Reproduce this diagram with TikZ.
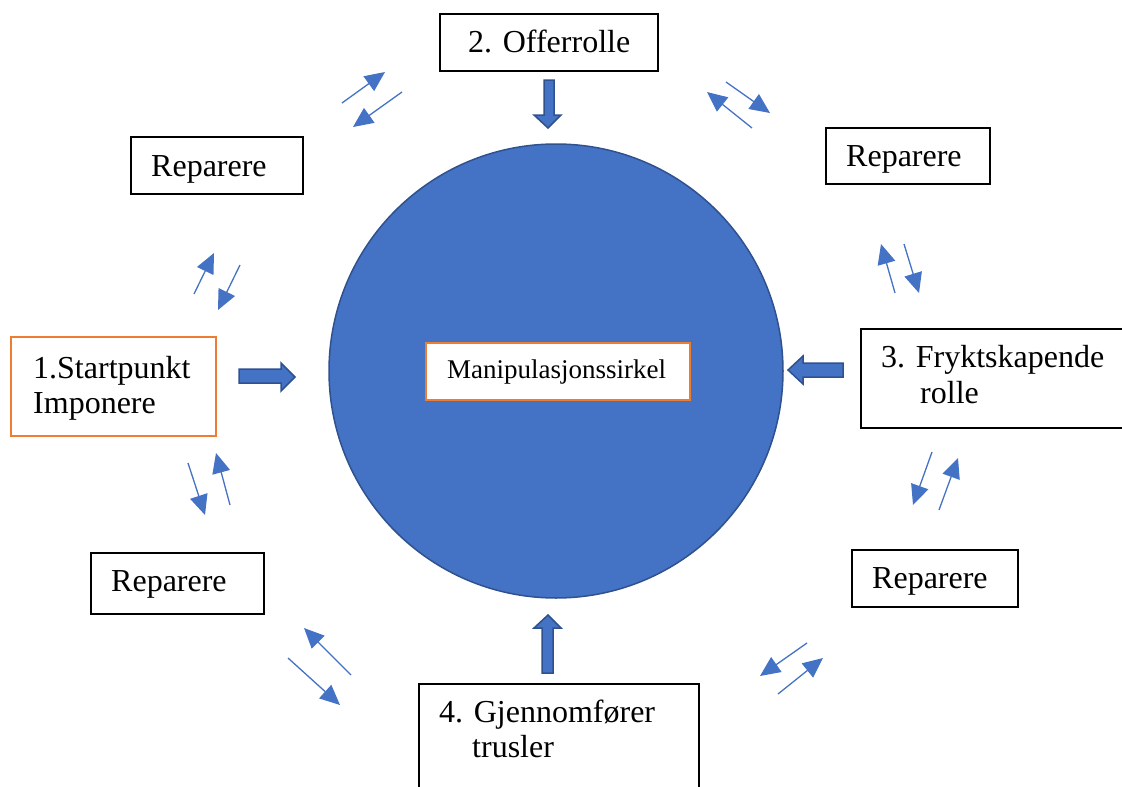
\documentclass[tikz,border=0pt]{standalone}
\usepackage{fontspec}
\setmainfont{Liberation Serif}
\usetikzlibrary{arrows.meta}
\definecolor{cfill}{HTML}{4472C4}
\definecolor{cline}{HTML}{2F528F}
\definecolor{corange}{HTML}{ED7D31}
\definecolor{sarrow}{HTML}{4472C4}
\tikzset{
  plainbox/.style={draw=black, line width=1.2pt},
  orangebox/.style={draw=corange, line width=2.4pt},
  txt/.style={anchor=base west, inner sep=0pt, font=\fontsize{32}{36}\selectfont},
  smallarr/.style={draw=sarrow, line width=1.3pt, -{Triangle[length=20pt,width=18pt]}},
  blockarr/.style={fill=cfill, draw=cline, line width=1.5pt, line join=miter},
}
\begin{document}
\begin{tikzpicture}[x=1pt,y=-1pt]
\useasboundingbox (0,0) rectangle (1122,787);
% central circle
\node[circle, fill=cfill, draw=cline, line width=1.5pt, minimum size=454pt, inner sep=0pt] (circ) at (556,371) {};
% centre label
\node[fill=white, draw=corange, line width=1.5pt, minimum width=264pt, minimum height=57pt, inner sep=0pt] (lab) at (558,371.5) {};
\node[anchor=base west, inner sep=0pt, font=\fontsize{27}{30}\selectfont] (labt) at (447,378) {Manipulasjonssirkel};

% boxes
\draw[plainbox] (440,14) rectangle (658,71);
\node[txt] (t2) at (468,52) {2. Offerrolle};

\draw[plainbox] (131,137) rectangle (303,194);
\node[txt] (r1) at (151,176) {Reparere};

\draw[plainbox] (826,128) rectangle (990,184);
\node[txt] (r2) at (846,166) {Reparere};

\draw[orangebox] (11,337) rectangle (216,436);
\node[txt] (t1a) at (33,378) {1.Startpunkt};
\node[txt] (t1b) at (33,413) {Imponere};

\draw[plainbox] (861,329) rectangle (1135,428);
\node[txt] (t3a) at (881,367) {3. Fryktskapende};
\node[txt] (t3b) at (920,403) {rolle};

\draw[plainbox] (91,553) rectangle (264,614);
\node[txt] (r4) at (111,591) {Reparere};

\draw[plainbox] (852,550) rectangle (1018,607);
\node[txt] (r3) at (872,588) {Reparere};

\draw[plainbox] (419,684) rectangle (699,800);
\node[txt] (t4a) at (439,722) {4. Gjennomfører};
\node[txt] (t4b) at (472,757) {trusler};

% block arrows
\draw[blockarr] (544,80) -- (554,80) -- (554,115) -- (561,115) -- (548,128) -- (534,115) -- (544,115) -- cycle;
\draw[blockarr] (542,673) -- (553,673) -- (553,628) -- (561,628) -- (548,615) -- (534,628) -- (542,628) -- cycle;
\draw[blockarr] (239,369) -- (281,369) -- (281,363) -- (295,377) -- (281,391) -- (281,383) -- (239,383) -- cycle;
\draw[blockarr] (843,363) -- (803,363) -- (803,356) -- (788,370) -- (803,384) -- (803,377) -- (843,377) -- cycle;

% small arrows
\coordinate (a1s) at (342,103); \coordinate (a1e) at (385,72);
\coordinate (a2s) at (402,92);  \coordinate (a2e) at (353,127);
\coordinate (b1s) at (726,82);  \coordinate (b1e) at (770,113);
\coordinate (b2s) at (752,128); \coordinate (b2e) at (707,92);
\coordinate (c1s) at (895,293); \coordinate (c1e) at (881,244);
\coordinate (c2s) at (904,244); \coordinate (c2e) at (919,293);
\coordinate (d1s) at (932,452); \coordinate (d1e) at (913,505);
\coordinate (d2s) at (939,510); \coordinate (d2e) at (958,458);
\coordinate (e1s) at (807,643); \coordinate (e1e) at (760,676);
\coordinate (e2s) at (778,694); \coordinate (e2e) at (823,658);
\coordinate (f1s) at (351,675); \coordinate (f1e) at (304,628);
\coordinate (f2s) at (288,658); \coordinate (f2e) at (340,705);
\coordinate (g1s) at (188,463); \coordinate (g1e) at (205,515);
\coordinate (g2s) at (230,505); \coordinate (g2e) at (216,453);
\coordinate (h1s) at (194,294); \coordinate (h1e) at (214,253);
\coordinate (h2s) at (240,265); \coordinate (h2e) at (218,310);
\foreach \p in {a1,a2,b1,b2,c1,c2,d1,d2,e1,e2,f1,f2,g1,g2,h1,h2}{
  \draw[smallarr] (\p s) -- (\p e);
}
\end{tikzpicture}
\end{document}
